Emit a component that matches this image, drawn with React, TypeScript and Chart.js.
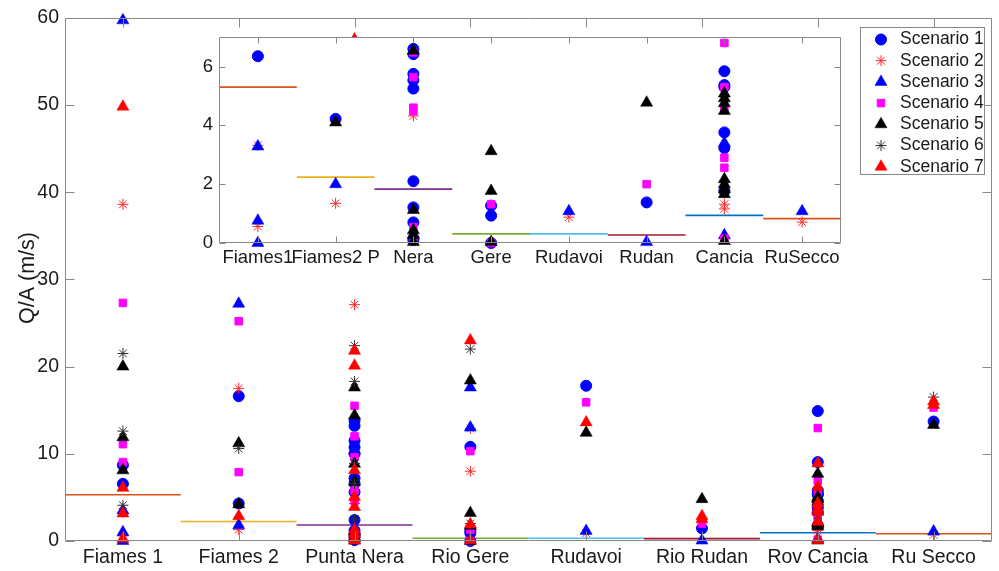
import React, { useEffect, useRef } from 'react';
import { Chart, registerables } from 'chart.js';

Chart.register(...registerables);

const categories = ['Fiames 1', 'Fiames 2', 'Punta Nera', 'Rio Gere', 'Rudavoi', 'Rio Rudan', 'Rov Cancia', 'Ru Secco'];
const insetCategories = ['Fiames1', 'Fiames2 P', 'Nera', 'Gere', 'Rudavoi', 'Rudan', 'Cancia', 'RuSecco'];
const scenarioNames = ['Scenario 1', 'Scenario 2', 'Scenario 3', 'Scenario 4', 'Scenario 5', 'Scenario 6', 'Scenario 7'];
const yTicksMain = [0, 10, 20, 30, 40, 50, 60];
const yTicksInset = [0, 2, 4, 6];
const medians = [5.3, 2.24, 1.83, 0.31, 0.31, 0.27, 0.94, 0.83];
const yAxisTitle = 'Q/A (m/s)';

// main chart values, one list per category
const main_s1 = [[8.7, 6.55], [16.6, 4.3], [13.8, 13.2, 11.5, 10.75, 10.0, 7.2, 6.6, 5.6, 2.4, 1.2, 0.7, 0.5, 0.1], [10.8, 1.2, 0.9, 0.0], [17.8], [1.45], [14.9, 9.05, 5.8, 5.4, 5.3, 3.8, 3.3, 1.8], [13.7]];
const main_s2 = [[38.6, 3.3, 0.6], [17.5, 1.3], [27.1, 4.3], [12.9, 8.0], [0.9], [], [1.4, 1.2], [0.7]];
const main_s3 = [[59.7, 3.5, 1.0, 0.0], [27.2, 1.8], [10.4, 0.3], [17.6, 13.0], [1.15], [0.05], [3.5, 0.25], [1.1]];
const main_s4 = [[27.3, 11.1, 9.05], [25.2, 7.9], [15.5, 12.0, 9.6, 5.8, 4.6, 0.6, 0.2], [10.3, 1.3, 0.0], [15.9], [2.0], [12.95, 6.9, 5.3, 4.6, 2.9, 2.55, 0.15], [15.3]];
const main_s5 = [[20.0, 11.9, 8.1], [11.2, 4.2], [17.6, 14.4, 8.85, 6.8, 1.1, 0.45, 0.05], [18.4, 3.2, 1.75, 0.0], [12.4], [4.8], [7.7, 5.05, 4.9, 4.75, 4.5, 2.15, 2.0, 1.85, 1.7, 0.05], [13.3]];
const main_s6 = [[21.5, 12.6, 4.1], [10.6], [22.4, 18.3, 8.9, 6.6, 2.5, 0.9, 0.4], [22.0, 2.0], [], [], [3.0], [16.5]];
const main_s7 = [[49.8, 6.1, 3.15, 0.25], [2.85], [57.5, 21.8, 20.1, 8.1, 5.05, 3.9, 1.3, 0.8, 0.3, 0.05], [23.0, 1.9, 0.1], [13.6], [2.85, 2.5], [8.9, 6.2, 4.3, 3.7, 3.35, 2.2, 0.1], [16.0, 15.6]];

// inset values
const inset_s1 = [[6.35], [4.22], [6.6, 6.42, 5.75, 5.53, 5.25, 2.1, 1.21, 0.7, 0.1], [1.27, 0.93, 0], [], [1.38], [5.84, 5.37, 5.3, 3.76, 3.23, 1.77], []];
const inset_s2 = [[3.32, 0.56], [1.35], [4.32], [], [0.88], [], [1.32, 1.16], [0.71]];
const inset_s3 = [[3.28, 0.76, 0], [2.0], [0.3], [], [1.08], [0.03], [3.4, 0.26], [1.08]];
const inset_s4 = [[], [], [6.48, 5.64, 4.6, 4.48, 0.54, 0.2], [1.32, 0], [], [2.0], [6.8, 5.3, 4.58, 2.9, 2.56, 0.15], []];
const inset_s5 = [[], [4.1], [6.54, 1.12, 0.43, 0.26, 0.03], [3.12, 1.77, 0.03], [], [4.77], [5.08, 4.92, 4.75, 4.49, 2.17, 2.0, 1.83, 1.66, 0.07], []];
const inset_s6 = [[], [], [], [], [], [], [], []];
const inset_s7 = [[], [], [], [], [], [], [], []];

const mainSeries = [main_s1, main_s2, main_s3, main_s4, main_s5, main_s6, main_s7];
const insetSeries = [inset_s1, inset_s2, inset_s3, inset_s4, inset_s5, inset_s6, inset_s7];

const medianColors = ['#D95319', '#EDB120', '#7E2F8E', '#77AC30', '#4DBEEE', '#A2142F', '#0072BD', '#D95319'];
const scenarioStyles = [
  { pointStyle: 'circle', radius: 5.5, color: '#0000FF', fill: true, bw: 1 },
  { pointStyle: 'star', radius: 5.5, color: '#FF2A2A', fill: false, bw: 1 },
  { pointStyle: 'triangle', radius: 7, color: '#0000FF', fill: true, bw: 0.5 },
  { pointStyle: 'rect', radius: 5.3, color: '#FF00FF', fill: true, bw: 1 },
  { pointStyle: 'triangle', radius: 7, color: '#000000', fill: true, bw: 0.5 },
  { pointStyle: 'star', radius: 5.5, color: '#333333', fill: false, bw: 1 },
  { pointStyle: 'triangle', radius: 7, color: '#FF0000', fill: true, bw: 0.5 },
];

const FONT = '"Liberation Sans", Arial, Helvetica, sans-serif';
const TEXT = '#1a1a1a';
const AXIS = '#888888';

function drawMarker(ctx: CanvasRenderingContext2D, st: any, x: number, y: number) {
  const r = st.radius;
  ctx.save();
  ctx.fillStyle = st.color;
  ctx.strokeStyle = st.color;
  ctx.lineWidth = st.bw;
  ctx.beginPath();
  if (st.pointStyle === 'circle') {
    ctx.arc(x, y, r, 0, Math.PI * 2);
    ctx.fill();
    ctx.stroke();
  } else if (st.pointStyle === 'triangle') {
    ctx.moveTo(x, y - r);
    ctx.lineTo(x + r * 0.866, y + r * 0.5);
    ctx.lineTo(x - r * 0.866, y + r * 0.5);
    ctx.closePath();
    ctx.fill();
    ctx.stroke();
  } else if (st.pointStyle === 'rect') {
    const s = r * Math.SQRT1_2;
    ctx.rect(x - s, y - s, 2 * s, 2 * s);
    ctx.fill();
    ctx.stroke();
  } else if (st.pointStyle === 'star') {
    for (let k = 0; k < 4; k++) {
      const a = (k * Math.PI) / 4;
      ctx.moveTo(x - Math.cos(a) * r, y - Math.sin(a) * r);
      ctx.lineTo(x + Math.cos(a) * r, y + Math.sin(a) * r);
    }
    ctx.stroke();
  }
  ctx.restore();
}

const framePlugin = {
  id: 'frame',
  beforeDraw(chart: any, _args: any, opts: any) {
    if (opts.fillArea) {
      const a = chart.chartArea;
      chart.ctx.save();
      chart.ctx.fillStyle = '#ffffff';
      chart.ctx.fillRect(a.left, a.top, a.right - a.left, a.bottom - a.top);
      chart.ctx.restore();
    }
  },
  afterDatasetsDraw(chart: any, _args: any, opts: any) {
    const { ctx, chartArea: a, scales } = chart;
    const L = Math.round(a.left) + 0.5;
    const R = Math.round(a.right) - 0.5;
    const T = Math.round(a.top) + 0.5;
    const B = Math.round(a.bottom) - 0.5;
    ctx.save();
    ctx.strokeStyle = AXIS;
    ctx.lineWidth = 1;
    ctx.beginPath();
    ctx.rect(L, T, R - L, B - T);
    const tl = opts.tickLen;
    scales.y.ticks.forEach((t: any) => {
      const py = Math.round(scales.y.getPixelForValue(t.value)) + 0.5;
      ctx.moveTo(L, py); ctx.lineTo(L + tl, py);
      ctx.moveTo(R, py); ctx.lineTo(R - tl, py);
    });
    scales.x.ticks.forEach((t: any) => {
      const px = Math.round(scales.x.getPixelForValue(t.value)) + 0.5;
      ctx.moveTo(px, T); ctx.lineTo(px, T + tl);
      ctx.moveTo(px, B); ctx.lineTo(px, B - tl);
    });
    ctx.stroke();
    ctx.restore();
  },
  afterDraw(chart: any, _args: any, opts: any) {
    const ctx = chart.ctx;
    if (opts.title) {
      ctx.save();
      ctx.translate(opts.title.x, opts.title.y);
      ctx.rotate(-Math.PI / 2);
      ctx.font = `21.5px ${FONT}`;
      ctx.fillStyle = TEXT;
      ctx.textAlign = 'center';
      ctx.textBaseline = 'middle';
      ctx.fillText(yAxisTitle, 0, 0);
      ctx.restore();
    }
    if (opts.legend) {
      const lg = opts.legend;
      ctx.save();
      ctx.fillStyle = '#ffffff';
      ctx.fillRect(lg.x, lg.y, lg.w, lg.h);
      ctx.strokeStyle = AXIS;
      ctx.lineWidth = 1;
      ctx.strokeRect(lg.x + 0.5, lg.y + 0.5, lg.w, lg.h);
      ctx.font = `17.5px ${FONT}`;
      ctx.fillStyle = TEXT;
      ctx.textAlign = 'left';
      ctx.textBaseline = 'middle';
      scenarioNames.forEach((name, i) => {
        const y = lg.y + lg.first + i * lg.step;
        drawMarker(ctx, scenarioStyles[i], lg.x + 21, y);
        ctx.fillStyle = TEXT;
        ctx.fillText(name, lg.x + 40, y);
      });
      ctx.restore();
    }
  },
};

function buildDatasets(series: number[][][]) {
  const ds: any[] = [];
  medians.forEach((m, i) => {
    ds.push({
      label: 'median' + i,
      data: [{ x: i + 0.5, y: m }, { x: i + 1.5, y: m }],
      showLine: true,
      borderColor: medianColors[i],
      borderWidth: 1.6,
      pointRadius: 0,
      order: 20,
    });
  });
  series.forEach((s, k) => {
    const st = scenarioStyles[k];
    ds.push({
      label: scenarioNames[k],
      data: s.flatMap((vals, i) => vals.map((v) => ({ x: i + 1, y: v }))),
      pointStyle: st.pointStyle,
      pointRadius: st.radius,
      pointBackgroundColor: st.fill ? st.color : 'rgba(0,0,0,0)',
      pointBorderColor: st.color,
      pointBorderWidth: st.bw,
      showLine: false,
      clip: false,
      order: 10 - k,
    });
  });
  return ds;
}

function makeOptions(cats: string[], yTicks: number[], yMax: number, cfg: any) {
  return {
    responsive: false,
    animation: false,
    devicePixelRatio: 1,
    events: [],
    layout: { padding: { top: cfg.top, right: cfg.right, left: 0, bottom: 0 } },
    plugins: {
      legend: { display: false },
      tooltip: { enabled: false },
      frame: cfg.frame,
    },
    scales: {
      x: {
        type: 'linear',
        min: 0.5,
        max: cats.length + 0.5,
        grid: { display: false, drawTicks: false },
        border: { display: false },
        afterBuildTicks: (s: any) => { s.ticks = cats.map((_, i) => ({ value: i + 1 })); },
        afterFit: (s: any) => { s.height = cfg.xHeight; },
        ticks: {
          autoSkip: false,
          maxRotation: 0,
          minRotation: 0,
          padding: cfg.xPad,
          color: TEXT,
          font: { size: cfg.fontSize, family: FONT },
          callback: (v: any) => cats[Math.round(v) - 1] ?? '',
        },
      },
      y: {
        type: 'linear',
        min: 0,
        max: yMax,
        grid: { display: false, drawTicks: false },
        border: { display: false },
        afterBuildTicks: (s: any) => { s.ticks = yTicks.map((v) => ({ value: v })); },
        afterFit: (s: any) => { s.width = cfg.yWidth; },
        ticks: {
          padding: 6,
          color: TEXT,
          font: { size: cfg.fontSize, family: FONT },
          callback: (v: any) => String(v),
        },
      },
    },
  };
}

export default function App() {
  const mainRef = useRef<HTMLCanvasElement>(null);
  const insetRef = useRef<HTMLCanvasElement>(null);

  useEffect(() => {
    const main = new Chart(mainRef.current as HTMLCanvasElement, {
      type: 'scatter',
      data: { datasets: buildDatasets(mainSeries) },
      plugins: [framePlugin],
      options: makeOptions(categories, yTicksMain, 60, {
        top: 15, right: 1, xHeight: 30, yWidth: 65, xPad: 5, fontSize: 19.5,
        frame: {
          tickLen: 9,
          title: { x: 28, y: 278 },
          legend: { x: 860, y: 27, w: 124, h: 147, first: 12.5, step: 21.2 },
        },
      }) as any,
    });
    const inset = new Chart(insetRef.current as HTMLCanvasElement, {
      type: 'scatter',
      data: { datasets: buildDatasets(insetSeries) },
      plugins: [framePlugin],
      options: makeOptions(insetCategories, yTicksInset, 7, {
        top: 15, right: 9, xHeight: 37, yWidth: 69, xPad: 4, fontSize: 18.5,
        frame: { tickLen: 6, fillArea: true },
      }) as any,
    });
    return () => {
      main.destroy();
      inset.destroy();
    };
  }, []);

  return (
    <div style={{ position: 'absolute', left: 0, top: 0, width: 999, height: 571, background: '#fff' }}>
      <canvas ref={mainRef} width={999} height={571} style={{ position: 'absolute', left: 0, top: 0, width: 999, height: 571 }} />
      <canvas ref={insetRef} width={700} height={260} style={{ position: 'absolute', left: 150, top: 20, width: 700, height: 260 }} />
    </div>
  );
}
